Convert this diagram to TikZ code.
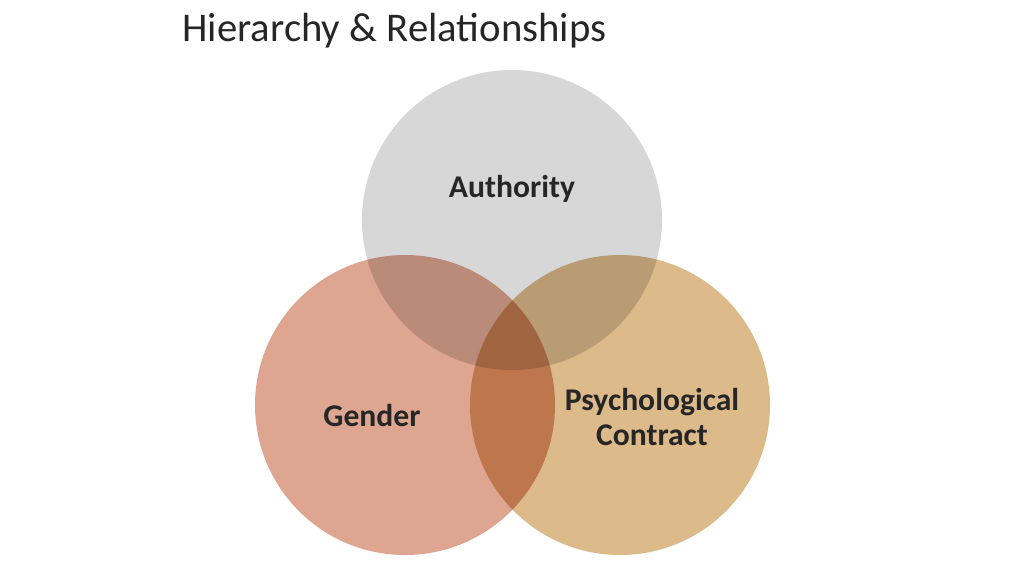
\documentclass[tikz,border=0pt]{standalone}
\usepackage{fontspec}
\setmainfont{Carlito}
\usetikzlibrary{positioning}
\definecolor{authgray}{HTML}{D3D3D3}
\definecolor{gendred}{HTML}{DA9C84}
\definecolor{psychtan}{HTML}{D8B27D}
\tikzset{
    venn/.style={draw=white,line width=0.6pt,fill opacity=0.9,circle,minimum size=3cm,inner sep=0pt},
    vennlabel/.style={font=\bfseries\fontsize{9}{10.2}\selectfont,align=center,text=black!85}
}
\begin{document}
\begin{tikzpicture}
\useasboundingbox (0,0) rectangle (10.24,5.76);
\node[anchor=west,font=\fontsize{11.6}{13}\selectfont,text=black!85] (title) at (1.70,5.45) {Hierarchy \& Relationships};

\begin{scope}[blend group=multiply]
\node[venn,fill=authgray] (authority) at (5.12,3.56) {};
\node[venn,fill=gendred] (gender) at (4.05,1.71) {};
\node[venn,fill=psychtan] (psych) at (6.2,1.71) {};
\end{scope}

\node[vennlabel] (authtext) at (5.12,3.87) {Authority};
\node[vennlabel] (gendtext) at (3.72,1.60) {Gender};
\node[vennlabel] (psychtext) at (6.52,1.59) {Psychological\\Contract};
\end{tikzpicture}
\end{document}
